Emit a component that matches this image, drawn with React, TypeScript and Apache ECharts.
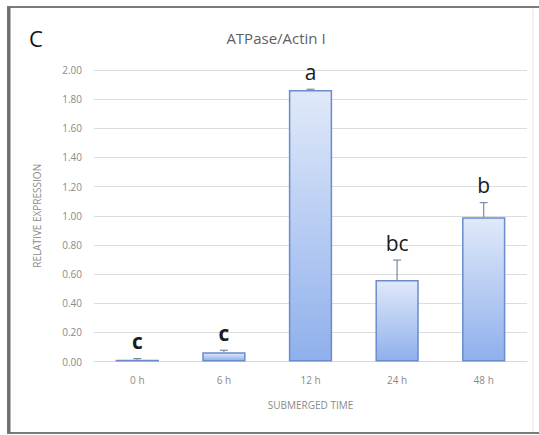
import React, { useEffect, useRef } from "react";
import * as echarts from "echarts";

const categories = ["0 h", "6 h", "12 h", "24 h", "48 h"];
const values = [0.012, 0.063, 1.862, 0.56, 0.99];
const errors = [0.008, 0.014, 0.006, 0.136, 0.1];
const letters = ["c", "c", "a", "bc", "b"];
const letterBold = [true, true, false, false, false];

export default function App() {
  const ref = useRef<HTMLDivElement>(null);
  useEffect(() => {
    if (!ref.current) return;
    const chart = echarts.init(ref.current, undefined, { renderer: "svg" });
    const errData = values.map((v, i) => [i, v, errors[i]]);
    chart.setOption({
      animation: false,
      backgroundColor: "#ffffff",
      textStyle: { fontFamily: "Open Sans" },
      grid: { left: 94, right: 12, top: 70, bottom: 73.5, containLabel: false },
      graphic: [
        {
          type: "rect",
          shape: { x: 8, y: 7, width: 540, height: 426 },
          style: { fill: "none", stroke: "#7a7a7a", lineWidth: 2 },
          silent: true,
        },
        {
          type: "line",
          shape: { x1: 9, y1: 7, x2: 9, y2: 433 },
          style: { stroke: "#6e6e6e", lineWidth: 3 },
          silent: true,
        },
        {
          type: "line",
          shape: { x1: 533, y1: 9, x2: 533, y2: 432 },
          style: { stroke: "#e4e4e4", lineWidth: 1 },
          silent: true,
        },
        {
          type: "text",
          x: 29,
          y: 38,
          style: {
            text: "C",
            fontSize: 22,
            fill: "#111111",
            fontFamily: "Open Sans",
            verticalAlign: "middle",
          },
        },
        {
          type: "text",
          x: 276,
          y: 38,
          style: {
            text: "ATPase/Actin I",
            fontSize: 15,
            fill: "#5f5f5f",
            fontFamily: "Open Sans",
            align: "center",
            verticalAlign: "middle",
          },
        },
      ],
      xAxis: {
        type: "category",
        data: categories,
        axisLine: { show: true, lineStyle: { color: "#d9d9d9", width: 1 } },
        axisTick: { show: false },
        axisLabel: { color: "#8a8a8a", fontSize: 10, margin: 13 },
        name: "SUBMERGED TIME",
        nameLocation: "middle",
        nameGap: 38,
        nameTextStyle: { color: "#8a8a8a", fontSize: 10 },
      },
      yAxis: {
        type: "value",
        min: 0,
        max: 2,
        interval: 0.2,
        axisLine: { show: false },
        axisTick: { show: false },
        axisLabel: {
          color: "#8a8a8a",
          fontSize: 10,
          margin: 12,
          formatter: (v: number) => v.toFixed(2),
        },
        splitLine: { lineStyle: { color: "#dcdcdc", width: 1 } },
        name: "RELATIVE EXPRESSION",
        nameLocation: "middle",
        nameRotate: 90,
        nameGap: 52,
        nameTextStyle: { color: "#8a8a8a", fontSize: 10 },
      },
      series: [
        {
          type: "bar",
          data: values,
          barWidth: "50%",
          itemStyle: {
            color: new echarts.graphic.LinearGradient(0, 0, 0, 1, [
              { offset: 0, color: "#e0e9f9" },
              { offset: 1, color: "#8fb0ec" },
            ]),
            borderColor: "#6b8bcc",
            borderWidth: 1.5,
          },
        },
        {
          type: "custom",
          data: errData,
          z: 5,
          renderItem: (params: any, api: any) => {
            const i = api.value(0);
            const v = api.value(1);
            const e = api.value(2);
            const base = api.coord([i, v]);
            const top = api.coord([i, v + e]);
            const idx = params.dataIndex;
            return {
              type: "group",
              children: [
                {
                  type: "line",
                  shape: { x1: base[0], y1: base[1], x2: top[0], y2: top[1] },
                  style: { stroke: "#7d8aa3", lineWidth: 1.2 },
                },
                {
                  type: "line",
                  shape: { x1: top[0] - 4, y1: top[1], x2: top[0] + 4, y2: top[1] },
                  style: { stroke: "#7d8aa3", lineWidth: 1.2 },
                },
                {
                  type: "text",
                  x: top[0],
                  y: top[1] - 7,
                  style: {
                    text: letters[idx],
                    fontSize: 21,
                    fontWeight: letterBold[idx] ? "bold" : "normal",
                    fill: "#1a1a1a",
                    fontFamily: "Open Sans",
                    align: "center",
                    verticalAlign: "bottom",
                  },
                },
              ],
            };
          },
        },
      ],
    });
    return () => chart.dispose();
  }, []);
  return (
    <div
      ref={ref}
      style={{ position: "absolute", left: 0, top: 0, width: 539, height: 435 }}
    />
  );
}
